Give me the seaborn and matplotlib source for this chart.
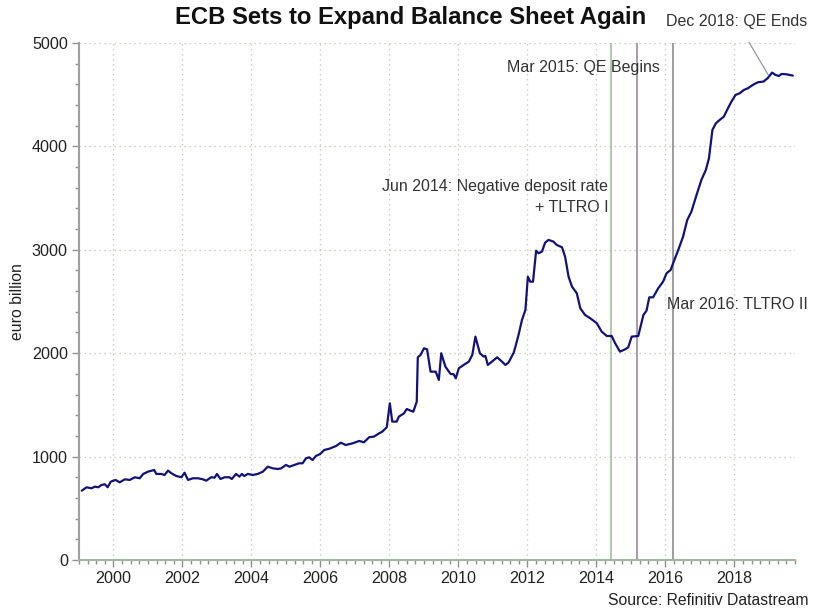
import matplotlib
matplotlib.use('Agg')
import matplotlib.pyplot as plt
import seaborn as sns
import pandas as pd
from matplotlib.ticker import MultipleLocator

# ECB balance sheet, euro billion
years = [1999.08, 1999.22, 1999.36, 1999.46, 1999.56, 1999.65, 1999.75, 1999.83, 1999.92,
         2000.06, 2000.18, 2000.33, 2000.47, 2000.62, 2000.76, 2000.86,
         2001.00, 2001.18, 2001.24, 2001.39, 2001.48, 2001.58, 2001.68, 2001.82, 2001.97,
         2002.06, 2002.16, 2002.30, 2002.45, 2002.59, 2002.69, 2002.83, 2002.93,
         2003.00, 2003.10, 2003.22, 2003.36, 2003.43, 2003.55, 2003.65, 2003.72, 2003.79, 2003.89,
         2004.04, 2004.18, 2004.33, 2004.47, 2004.62, 2004.76, 2004.86,
         2005.00, 2005.10, 2005.24, 2005.38, 2005.48, 2005.58, 2005.67, 2005.77, 2005.87, 2005.99,
         2006.11, 2006.25, 2006.45, 2006.59, 2006.73, 2006.93,
         2007.12, 2007.26, 2007.41, 2007.55, 2007.70, 2007.79, 2007.92,
         2008.01, 2008.08, 2008.21, 2008.27, 2008.42, 2008.50, 2008.61, 2008.69, 2008.79, 2008.82, 2008.90,
         2009.00, 2009.09, 2009.19, 2009.34, 2009.43, 2009.50, 2009.62, 2009.77, 2009.86, 2009.92,
         2010.01, 2010.15, 2010.30, 2010.40, 2010.49, 2010.62, 2010.73, 2010.78, 2010.85, 2010.97,
         2011.12, 2011.26, 2011.36, 2011.45, 2011.60, 2011.65, 2011.74, 2011.84, 2011.94,
         2012.01, 2012.08, 2012.16, 2012.25, 2012.32, 2012.42, 2012.51, 2012.61, 2012.75, 2012.85,
         2013.00, 2013.09, 2013.19, 2013.29, 2013.43, 2013.53, 2013.67, 2013.82,
         2014.01, 2014.15, 2014.30, 2014.44, 2014.54, 2014.68, 2014.83, 2014.92,
         2015.02, 2015.21, 2015.36, 2015.45, 2015.53, 2015.64, 2015.79, 2015.93,
         2016.03, 2016.15, 2016.22, 2016.37, 2016.51, 2016.63, 2016.75, 2016.90,
         2017.04, 2017.17, 2017.26, 2017.36, 2017.46, 2017.57, 2017.69, 2017.81, 2017.91,
         2018.03, 2018.15, 2018.27, 2018.39, 2018.53, 2018.68, 2018.84, 2018.96,
         2019.09, 2019.19, 2019.29, 2019.36, 2019.50, 2019.69]
balance = [670, 703, 693, 709, 703, 725, 732, 703, 757,
           774, 751, 780, 774, 800, 790, 832,
           854, 870, 832, 832, 822, 864, 838, 812, 800,
           844, 774, 790, 790, 780, 767, 800, 796,
           832, 783, 800, 800, 783, 832, 806, 832, 812, 832,
           822, 832, 854, 902, 886, 880, 886,
           919, 902, 919, 935, 935, 983, 993, 967, 1006, 1025,
           1064, 1075, 1102, 1134, 1112, 1128,
           1151, 1138, 1187, 1193, 1225, 1241, 1283,
           1515, 1338, 1338, 1386, 1418, 1460, 1444, 1434, 1531, 1960, 1983,
           2047, 2037, 1821, 1821, 1741, 1999, 1870, 1799, 1796, 1757,
           1854, 1886, 1918, 1983, 2160, 1999, 1967, 1973, 1886, 1918,
           1960, 1918, 1886, 1909, 2005, 2063, 2176, 2321, 2418,
           2740, 2691, 2691, 2991, 2966, 2982, 3069, 3095, 3079, 3046,
           3024, 2933, 2740, 2643, 2579, 2434, 2369, 2337,
           2289, 2208, 2166, 2166, 2096, 2015, 2037, 2057,
           2160, 2166, 2369, 2411, 2540, 2540, 2628, 2691,
           2772, 2805, 2869, 2998, 3127, 3288, 3368, 3530,
           3675, 3772, 3885, 4159, 4223, 4255, 4287, 4368, 4432,
           4497, 4513, 4545, 4562, 4594, 4620, 4626, 4659,
           4713, 4690, 4681, 4700, 4697, 4684]

# policy events
event_dates = [2014.42, 2015.17, 2016.21]
event_colors = ['#9cc49c', '#9a8c9a', '#8c8c8c']

df = pd.DataFrame({'year': years, 'value': balance})

sns.set_style('white')
plt.rcParams['font.family'] = ['Liberation Sans', 'DejaVu Sans']

fig = plt.figure(figsize=(8.22, 6.09), dpi=100)
ax = fig.add_axes([0.0961, 0.0805, 0.8709, 0.849])

ax.grid(True, which='major', color='#b8c8b0', linestyle=(0, (1, 3)), linewidth=0.9)
ax.set_axisbelow(True)

for d, c in zip(event_dates, event_colors):
    ax.axvline(d, color=c, linewidth=1.2, zorder=1)

sns.lineplot(data=df, x='year', y='value', ax=ax, color='#12127a', linewidth=1.6, zorder=3)

ax.set_xlim(1999.0, 2019.75)
ax.set_ylim(0, 5000)
ax.xaxis.set_major_locator(MultipleLocator(2))
ax.xaxis.set_minor_locator(MultipleLocator(0.25))
ax.yaxis.set_major_locator(MultipleLocator(1000))
ax.yaxis.set_minor_locator(MultipleLocator(200))
ax.tick_params(axis='both', which='major', direction='out', length=5, width=1,
               color='#909090', labelsize=11.6, labelcolor='#222222')
ax.tick_params(axis='both', which='minor', direction='out', length=3, width=1, color='#909090')
ax.tick_params(axis='x', pad=3)
ax.tick_params(axis='y', pad=3)
ax.xaxis.set_ticks_position('bottom')
ax.yaxis.set_ticks_position('left')

for side in ['top', 'right']:
    ax.spines[side].set_visible(False)
ax.spines['left'].set_color('#a0a0a0')
ax.spines['left'].set_linewidth(1.5)
ax.spines['bottom'].set_color('#a0b8a0')
ax.spines['bottom'].set_linewidth(1.5)

ax.set_xlabel('')
ax.set_ylabel('euro billion', fontsize=11.4, color='#222222', labelpad=5)

fig.text(0.5, 0.972, 'ECB Sets to Expand Balance Sheet Again', ha='center', va='center',
         fontsize=17.2, fontweight='bold', color='#111111')

ann = dict(fontsize=11.5, color='#333333')
ax.text(2014.34, 3510, 'Jun 2014: Negative deposit rate\n+ TLTRO I', ha='right', va='center',
        linespacing=1.5, **ann)
ax.text(2015.84, 4758, 'Mar 2015: QE Begins', ha='right', va='center', **ann)
ax.text(2016.04, 2466, 'Mar 2016: TLTRO II', ha='left', va='center', **ann)
ax.annotate('Dec 2018: QE Ends', xy=(2018.98, 4690), xytext=(2020.12, 5203),
            ha='right', va='center', annotation_clip=False,
            arrowprops=dict(arrowstyle='-', color='#999999', linewidth=0.9,
                            shrinkA=8, shrinkB=0), **ann)

fig.text(0.983, 0.006, 'Source: Refinitiv Datastream', ha='right', va='baseline',
         fontsize=11.3, color='#222222')

fig.savefig('out.png', dpi=100)
